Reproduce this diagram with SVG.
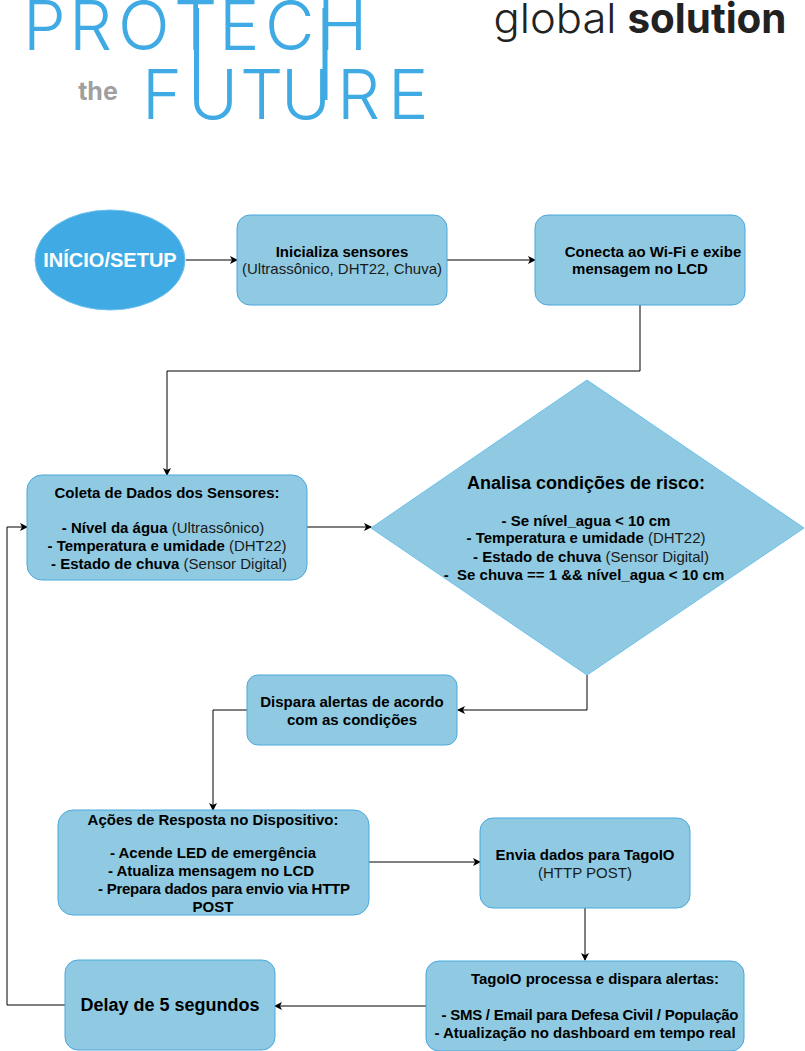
<svg xmlns="http://www.w3.org/2000/svg" width="805" height="1051" viewBox="0 0 805 1051">
<style>
text{font-family:"Liberation Sans",Arial,sans-serif;font-size:15px;fill:#1a1a1a;text-anchor:middle}
.b{font-weight:bold;fill:#000}
.box{fill:#8fcae2;stroke:#4aa8de;stroke-width:1}
.c{fill:none;stroke:#000;stroke-width:1}
.logo{font-family:"Inter","Lato",sans-serif;font-weight:350;font-size:68px;fill:#3faae3;text-anchor:start}
.ls{fill:none;stroke:#3faae3;stroke-width:5}
</style>
<defs><marker id="a" markerWidth="8" markerHeight="8" refX="7" refY="4" orient="auto" markerUnits="userSpaceOnUse"><path d="M0 0L8 4L0 8L2 4Z" fill="#000"/></marker></defs>
<g id="logo">
<text class="logo" x="23 69 118 174 219 265 317" y="50">PROTECH</text>
<text class="logo" x="142 188 240 281 337 388" y="119">FUTURE</text>
<text x="98" y="100" style="font-family:Inter,sans-serif;font-size:25px;font-weight:bold;fill:#a0a0a0">the</text>
<path class="ls" d="M196.500 8V100M325 8V100"/>
<text x="555" y="33" style="font-family:Inter,sans-serif;font-weight:300;font-size:41px;fill:#222" textLength="123" lengthAdjust="spacingAndGlyphs">global</text>
<text x="707" y="33" style="font-family:Inter,sans-serif;font-weight:bold;font-size:41px;fill:#222" textLength="159" lengthAdjust="spacingAndGlyphs">solution</text>
</g>
<g id="connectors">
<path class="c" marker-end="url(#a)" d="M186 260H237"/>
<path class="c" marker-end="url(#a)" d="M447 260H535"/>
<path class="c" marker-end="url(#a)" d="M640 305V371H167V475"/>
<path class="c" marker-end="url(#a)" d="M307 527H371"/>
<path class="c" marker-end="url(#a)" d="M587 675V710H458"/>
<path class="c" marker-end="url(#a)" d="M247 710H213V810"/>
<path class="c" marker-end="url(#a)" d="M369 862H480"/>
<path class="c" marker-end="url(#a)" d="M585 908V960"/>
<path class="c" marker-end="url(#a)" d="M426 1006H275"/>
<path class="c" marker-end="url(#a)" d="M65 1005H7V527H27"/>
</g>
<g id="n1"><ellipse cx="110" cy="260" rx="75" ry="50" fill="#3faae3" stroke="#6cc0ee"/><text x="110" y="267" class="b" style="fill:#fff;font-size:20px">INÍCIO/SETUP</text></g>
<g id="n2"><rect class="box" x="237" y="215" width="210" height="90" rx="13"/><text x="342" y="257" class="b">Inicializa sensores</text><text x="342" y="274">(Ultrassônico, DHT22, Chuva)</text></g>
<g id="n3"><rect class="box" x="535" y="215" width="210" height="90" rx="13"/><text x="653" y="257" class="b">Conecta ao Wi-Fi e exibe</text><text x="640" y="274" class="b">mensagem no LCD</text></g>
<g id="n4"><rect class="box" x="27" y="475" width="280" height="105" rx="15"/>
<text x="167" y="498" class="b">Coleta de Dados dos Sensores:</text>
<text x="163" y="533"><tspan class="b">- Nível da água</tspan> (Ultrassônico)</text>
<text x="167" y="551"><tspan class="b">- Temperatura e umidade</tspan> (DHT22)</text>
<text x="169" y="569"><tspan class="b">- Estado de chuva</tspan> (Sensor Digital)</text></g>
<g id="n5"><path d="M587 380L804 528L587 675L371 528Z" fill="#8fcae2" stroke="#6cc0ee"/>
<text x="586" y="489" class="b" style="font-size:18px">Analisa condições de risco:</text>
<text x="586" y="526" class="b">- Se nível_agua &lt; 10 cm</text>
<text x="586" y="543"><tspan class="b">- Temperatura e umidade</tspan> (DHT22)</text>
<text x="591" y="562"><tspan class="b">- Estado de chuva</tspan> (Sensor Digital)</text>
<text x="584" y="580" class="b" xml:space="preserve">-  Se chuva == 1 &amp;&amp; nível_agua &lt; 10 cm</text></g>
<g id="n6"><rect class="box" x="247" y="675" width="210" height="70" rx="11"/><text x="352" y="707" class="b">Dispara alertas de acordo</text><text x="352" y="725" class="b">com as condições</text></g>
<g id="n7"><rect class="box" x="58" y="810" width="311" height="105" rx="15"/>
<text x="213" y="825" class="b">Ações de Resposta no Dispositivo:</text>
<text x="213" y="858" class="b">- Acende LED de emergência</text>
<text x="211" y="876" class="b">- Atualiza mensagem no LCD</text>
<text x="224" y="894" class="b" textLength="252" lengthAdjust="spacing">- Prepara dados para envio via HTTP</text>
<text x="213" y="912" class="b">POST</text></g>
<g id="n8"><rect class="box" x="480" y="818" width="210" height="90" rx="13"/><text x="585" y="860" class="b">Envia dados para TagoIO</text><text x="585" y="878">(HTTP POST)</text></g>
<g id="n9"><rect class="box" x="426" y="961" width="318" height="90" rx="13"/>
<text x="595" y="984" class="b">TagoIO processa e dispara alertas:</text>
<text x="590" y="1020" class="b" textLength="297" lengthAdjust="spacing">- SMS / Email para Defesa Civil / População</text>
<text x="585" y="1038" class="b">- Atualização no dashboard em tempo real</text></g>
<g id="n10"><rect class="box" x="65" y="960" width="210" height="90" rx="13"/><text x="170" y="1011" class="b" style="font-size:18px">Delay de 5 segundos</text></g>
</svg>
